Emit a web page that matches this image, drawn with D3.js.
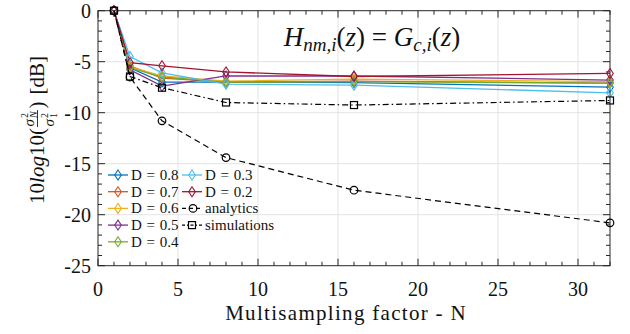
<!DOCTYPE html>
<html><head><meta charset="utf-8">
<script src="https://cdn.jsdelivr.net/npm/d3@7"></script>
<style>body{margin:0;background:#fff}svg{display:block}svg text{font-family:'Liberation Serif','Times New Roman',serif;fill:#111}</style>
</head><body>
<svg id="c" width="630" height="334"></svg>
<script>
const N = [1, 2, 4, 8, 16, 32];
const dLabels = ["D = 0.8", "D = 0.7", "D = 0.6", "D = 0.5", "D = 0.4", "D = 0.3", "D = 0.2"];
const d08 = [0, -5.6, -7.0, -7.0, -7.05, -7.5];
const d07 = [0, -5.4, -6.6, -7.0, -6.9, -7.1];
const d06 = [0, -5.5, -6.4, -6.9, -6.7, -6.95];
const d05 = [0, -5.8, -7.4, -6.4, -6.4, -6.8];
const d04 = [0, -5.6, -6.5, -7.0, -6.95, -7.1];
const d03 = [0, -4.5, -6.1, -7.2, -7.3, -8.05];
const d02 = [0, -5.1, -5.4, -6.0, -6.45, -6.15];
const analytics = [0, -6.5, -10.8, -14.4, -17.6, -20.8];
const simulations = [0, -6.45, -7.55, -9.0, -9.25, -8.8];
const xTicks = [0, 5, 10, 15, 20, 25, 30];
const yTicks = [0, -5, -10, -15, -20, -25];
const colors = ["#0072BD", "#D95319", "#EDB120", "#7E2F8E", "#77AC30", "#4DBEEE", "#A2142F"];
const dSeries = [d08, d07, d06, d05, d04, d03, d02];

const svg = d3.select("#c");
const L = 98, R = 610, T = 10.7, B = 265.7;
const x = d3.scaleLinear().domain([0, 32]).range([L, R]);
const y = d3.scaleLinear().domain([-25, 0]).range([B, T]);

// grid
const g = svg.append("g");
xTicks.filter(v => v > 0).forEach(v => g.append("line").attr("x1", x(v)).attr("x2", x(v)).attr("y1", T).attr("y2", B).attr("stroke", "#e3e3e3").attr("stroke-width", 1));
yTicks.filter(v => v < 0 && v > -25).forEach(v => g.append("line").attr("x1", L).attr("x2", R).attr("y1", y(v)).attr("y2", y(v)).attr("stroke", "#e3e3e3").attr("stroke-width", 1));

// ticks (inward, all sides)
const tk = svg.append("g").attr("stroke", "#262626").attr("stroke-width", 1);
d3.range(0, 33, 1).forEach(v => {
  const len = v % 5 === 0 ? 7 : 4;
  tk.append("line").attr("x1", x(v)).attr("x2", x(v)).attr("y1", B).attr("y2", B - len);
  tk.append("line").attr("x1", x(v)).attr("x2", x(v)).attr("y1", T).attr("y2", T + len);
});
d3.range(-25, 1, 1).forEach(v => {
  const len = v % 5 === 0 ? 7 : 4;
  tk.append("line").attr("y1", y(v)).attr("y2", y(v)).attr("x1", L).attr("x2", L + len);
  tk.append("line").attr("y1", y(v)).attr("y2", y(v)).attr("x1", R).attr("x2", R - len);
});
svg.append("rect").attr("x", L).attr("y", T).attr("width", R - L).attr("height", B - T).attr("fill", "none").attr("stroke", "#262626").attr("stroke-width", 1);

// tick labels
xTicks.forEach(v => svg.append("text").attr("x", x(v)).attr("y", 296).attr("text-anchor", "middle")
  .attr("font-size", 20).text(v));
yTicks.forEach(v => svg.append("text").attr("x", 91).attr("y", y(v) + 7).attr("text-anchor", "end")
  .attr("font-size", 20).text(v === 0 ? "0" : "-" + Math.abs(v)));

// axis title
svg.append("text").attr("x", 346).attr("y", 320).attr("text-anchor", "middle")
  .attr("font-size", 21).attr("letter-spacing", 1.3).text("Multisampling factor - N");

// y label (rotated)
(function () {
  const yl = svg.append("g").attr("transform", "translate(44,130) rotate(-90)");
  const parts = yl.append("g");
  let cx = 0;
  function put(txt, opts) {
    const t = parts.append("text").attr("x", cx).attr("y", 0)
      .attr("font-size", opts.size || 21)
      .attr("font-style", opts.italic ? "italic" : "normal").text(txt);
    cx += t.node().getComputedTextLength() + (opts.after || 0);
  }
  put("10", {});
  put("log", { italic: true });
  put("10(", {});
  const fx = cx + 1.5;
  function sig(gg, sub, yy) {
    gg.append("text").attr("x", 0).attr("y", yy).attr("font-size", 15).attr("font-style", "italic").text("σ");
    gg.append("text").attr("x", 8.5).attr("y", yy - 6).attr("font-size", 10).text("2");
    gg.append("text").attr("x", 8.5).attr("y", yy + 3).attr("font-size", 10).attr("font-style", sub === "N" ? "italic" : "normal").text(sub);
  }
  const ng = parts.append("g").attr("transform", `translate(${fx},0)`);
  sig(ng, "N", -10);
  const dg = parts.append("g").attr("transform", `translate(${fx},0)`);
  sig(dg, "1", 10);
  parts.append("line").attr("x1", fx - 0.5).attr("x2", fx + 16.5).attr("y1", -6.5).attr("y2", -6.5).attr("stroke", "#000").attr("stroke-width", 0.8);
  cx = fx + 18;
  put(")", { after: 7 });
  put("[dB]", {});
  parts.attr("transform", `translate(${-cx / 2},0)`);
})();

// lines
const line = d3.line().x((d, i) => x(N[i])).y(d => y(d));
const diamond = "M0,-5L3.3,0L0,5L-3.3,0Z";
dSeries.forEach((s, k) => {
  svg.append("path").datum(s).attr("d", line).attr("fill", "none").attr("stroke", colors[k]).attr("stroke-width", 1.3);
});
dSeries.forEach((s, k) => {
  s.forEach((v, i) => svg.append("path").attr("d", diamond).attr("transform", `translate(${x(N[i])},${y(v)})`)
    .attr("fill", "none").attr("stroke", colors[k]).attr("stroke-width", 1.1));
});
svg.append("path").datum(analytics).attr("d", line).attr("fill", "none").attr("stroke", "#000").attr("stroke-width", 1.2).attr("stroke-dasharray", "6,4");
analytics.forEach((v, i) => svg.append("circle").attr("cx", x(N[i])).attr("cy", y(v)).attr("r", 3.8).attr("fill", "none").attr("stroke", "#000").attr("stroke-width", 1.2));
svg.append("path").datum(simulations).attr("d", line).attr("fill", "none").attr("stroke", "#000").attr("stroke-width", 1.2).attr("stroke-dasharray", "6,3,1.5,3");
simulations.forEach((v, i) => svg.append("rect").attr("x", x(N[i]) - 3.5).attr("y", y(v) - 3.5).attr("width", 7).attr("height", 7).attr("fill", "none").attr("stroke", "#000").attr("stroke-width", 1.2));

// title
(function () {
  const t = svg.append("text").attr("x", 372).attr("y", 46).attr("text-anchor", "middle")
    .attr("font-size", 27);
  t.append("tspan").attr("font-style", "italic").text("H");
  t.append("tspan").attr("font-style", "italic").attr("font-size", 19).attr("dy", 5).text("nm,i");
  t.append("tspan").attr("dy", -5).text("(");
  t.append("tspan").attr("font-style", "italic").text("z");
  t.append("tspan").text(") = ");
  t.append("tspan").attr("font-style", "italic").text("G");
  t.append("tspan").attr("font-style", "italic").attr("font-size", 19).attr("dy", 5).text("c,i");
  t.append("tspan").attr("dy", -5).text("(");
  t.append("tspan").attr("font-style", "italic").text("z");
  t.append("tspan").text(")");
})();

// legend
const lg = svg.append("g");
const rowY = [175, 191.7, 208.4, 225.1, 241.8];
function legendItem(col, row, kind, color, label) {
  const x0 = col === 0 ? 108 : 182;
  const yy = rowY[row];
  if (kind === "d") {
    lg.append("line").attr("x1", x0).attr("x2", x0 + 20).attr("y1", yy).attr("y2", yy).attr("stroke", color).attr("stroke-width", 1.3);
    lg.append("path").attr("d", diamond).attr("transform", `translate(${x0 + 10},${yy})`).attr("fill", "none").attr("stroke", color).attr("stroke-width", 1.1);
  } else if (kind === "a") {
    lg.append("line").attr("x1", x0).attr("x2", x0 + 18).attr("y1", yy).attr("y2", yy).attr("stroke", "#000").attr("stroke-width", 1.2).attr("stroke-dasharray", "4,3");
    lg.append("circle").attr("cx", x0 + 11).attr("cy", yy).attr("r", 3.8).attr("fill", "none").attr("stroke", "#000").attr("stroke-width", 1.2);
  } else {
    lg.append("line").attr("x1", x0).attr("x2", x0 + 20).attr("y1", yy).attr("y2", yy).attr("stroke", "#000").attr("stroke-width", 1.2).attr("stroke-dasharray", "3,2,1.5,2");
    lg.append("rect").attr("x", x0 + 6.5).attr("y", yy - 3.5).attr("width", 7).attr("height", 7).attr("fill", "none").attr("stroke", "#000").attr("stroke-width", 1.2);
  }
  lg.append("text").attr("x", x0 + 23).attr("y", yy + 5).attr("font-size", 15).attr("word-spacing", 1).text(label);
}
for (let k = 0; k < 5; k++) legendItem(0, k, "d", colors[k], dLabels[k]);
legendItem(1, 0, "d", colors[5], dLabels[5]);
legendItem(1, 1, "d", colors[6], dLabels[6]);
legendItem(1, 2, "a", "#000", "analytics");
legendItem(1, 3, "s", "#000", "simulations");
</script>
</body></html>
